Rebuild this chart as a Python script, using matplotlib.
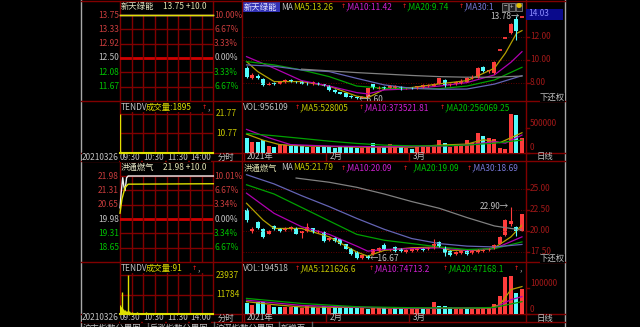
import numpy as np
import matplotlib.pyplot as plt
from matplotlib.patches import Rectangle

plt.rcParams['font.family'] = ['Noto Sans CJK SC', 'DejaVu Sans']
FS = 6.0
W, H = 640, 327

# ---------------- data: 新天绿能 ----------------
s1_name = '新天绿能'
s1_head = '13.75 +10.0'
s1_levels = [13.75, 13.33, 12.92, 12.50, 12.08, 11.67]
s1_pct = ['10.00%', '6.67%', '3.33%', '0.00%', '3.33%', '6.67%']
s1_vticks = [21.77, 10.77]
s1_vtick_lbl = ['21.77', '10.77']
s1_tendv = '成交量:1895'
# intraday price / average (minutes from 09:30)
s1_t = [0, 240]
s1_p = [13.75, 13.75]
s1_ta = [0, 240]
s1_pa = [13.75, 13.75]
s1_vm = [0, 1, 2, 3, 5, 10, 30, 60, 90, 120, 150, 180, 210, 239]
s1_vv = [22.0, 0.6, 0.4, 0.3, 0.3, 0.2, 0.2, 0.2, 0.2, 0.2, 0.2, 0.2, 0.2, 0.3]

s1_open = [9.30, 8.45, 8.60, 8.35, 7.85, 8.00, 7.95, 8.05, 8.25, 8.15, 8.10, 7.95, 7.90, 8.00, 7.90,
           7.75, 7.40, 7.20, 7.10, 6.85, 6.75, 6.70, 6.80, 7.90, 7.50, 7.65, 7.60, 7.60, 7.65, 7.50,
           7.60, 7.55, 7.60, 7.70, 7.75, 7.95, 8.25, 7.80, 7.90, 8.00, 8.10, 8.45, 8.45, 9.40, 9.00,
           8.85, 10.84, 11.92, 12.35, 13.56, 13.75]
s1_close = [8.55, 8.70, 8.45, 7.80, 7.95, 7.90, 8.05, 8.25, 8.10, 8.05, 7.95, 7.90, 8.05, 7.90, 7.75,
            7.35, 7.20, 7.05, 6.80, 6.75, 6.65, 6.75, 7.55, 7.55, 7.60, 7.55, 7.75, 7.70, 7.45, 7.55,
            7.50, 7.70, 7.85, 7.80, 7.95, 8.40, 7.85, 7.95, 8.10, 8.20, 8.45, 8.55, 9.30, 9.00, 9.10,
            9.85, 10.84, 11.92, 13.11, 12.50, 13.75]
s1_high = [9.45, 8.85, 8.75, 8.40, 8.05, 8.10, 8.15, 8.35, 8.30, 8.20, 8.15, 8.05, 8.15, 8.05, 7.95,
           7.80, 7.45, 7.25, 7.15, 6.95, 6.80, 6.85, 7.60, 7.95, 7.70, 7.75, 7.85, 7.80, 7.70, 7.60,
           7.65, 7.75, 7.90, 7.90, 8.00, 8.45, 8.30, 8.00, 8.15, 8.30, 8.55, 8.65, 9.35, 9.50, 9.15,
           9.90, 10.84, 11.92, 13.20, 13.78, 13.75]
s1_low = [8.45, 8.35, 8.35, 7.70, 7.80, 7.85, 7.90, 8.00, 8.05, 8.00, 7.90, 7.85, 7.85, 7.85, 7.70,
          7.30, 7.15, 7.00, 6.75, 6.70, 6.60, 6.65, 6.75, 7.50, 7.45, 7.50, 7.55, 7.55, 7.40, 7.45,
          7.45, 7.50, 7.55, 7.65, 7.70, 7.90, 7.65, 7.75, 7.85, 7.95, 8.05, 8.35, 8.40, 8.95, 8.90,
          8.80, 10.84, 11.92, 12.30, 11.74, 13.75]
s1_vol = [286, 218, 204, 252, 129, 116, 150, 150, 136, 136, 136, 102, 116, 116, 129,
          129, 82, 116, 116, 102, 82, 82, 116, 184, 102, 116, 163, 129, 116, 82,
          68, 102, 116, 116, 129, 252, 184, 116, 129, 150, 252, 184, 388, 333, 286,
          265, 82, 68, 782, 762, 286]  # thousands

s1_ma5_i = [0, 2, 5, 10, 15, 18, 20, 22, 25, 30, 35, 40, 43, 45, 47, 49, 50]
s1_ma5 = [9.86, 9.0, 8.12, 8.12, 7.73, 7.2, 6.85, 6.7, 7.45, 7.6, 7.92, 8.2, 8.84, 9.28, 10.6, 12.3, 12.55]
s1_ma10_i = [0, 5, 10, 15, 20, 22, 25, 30, 35, 40, 45, 48, 50]
s1_ma10 = [10.29, 9.28, 8.2, 7.73, 7.16, 7.05, 7.39, 7.5, 7.73, 8.03, 8.7, 9.8, 10.72]
s1_ma20_i = [0, 5, 10, 15, 20, 25, 30, 35, 40, 45, 50]
s1_ma20 = [9.86, 9.57, 9.13, 8.55, 7.73, 7.53, 7.53, 7.5, 7.73, 8.26, 9.36]
s1_ma30_i = [0, 5, 10, 15, 20, 25, 30, 35, 40, 45, 50]
s1_ma30 = [9.57, 9.45, 9.13, 8.99, 8.4, 7.83, 7.53, 7.45, 7.47, 7.9, 8.63]
s1_ma60_i = [10, 20, 30, 35, 40, 45, 50]
s1_ma60 = [9.2, 8.9, 8.65, 8.55, 8.5, 8.5, 8.6]

s1_vma5_i = [0, 3, 6, 10, 20, 30, 35, 40, 43, 46, 48, 50]
s1_vma5 = [374, 250, 160, 135, 110, 110, 150, 170, 260, 200, 300, 401]
s1_vma10_i = [0, 4, 8, 15, 25, 35, 40, 45, 47, 50]
s1_vma10 = [469, 300, 160, 130, 115, 130, 150, 220, 190, 354]
s1_vma20_i = [0, 5, 10, 15, 20, 25, 30, 35, 40, 45, 50]
s1_vma20 = [388, 340, 286, 230, 184, 150, 136, 135, 150, 190, 252]

s1_kticks = [12.00, 10.00, 8.00]
s1_vkticks = [500000, 0]
s1_cur = 14.03
s1_hi = (50, 13.78)
s1_lo = (20, 6.60)
s1_ktitle = [(281, 'MA', 'g'), (293, 'MA5:13.26', 'y'), (343, '↑', 'r'), (346, ',MA10:11.42', 'm'),
             (404, '↑', 'r'), (407, ',MA20:9.74', 'gr'), (461, '↑', 'r'), (464, ',MA30:1', 'b')]
s1_vtitle = [(243, 'VOL:956109', 'g'), (297, '↑', 'r'), (300, ',MA5:528005', 'y'), (361, '↑', 'r'),
             (364, ',MA10:373521.81', 'm'), (442, '↑', 'r'), (445, ',MA20:256069.25', 'gr')]

# ---------------- data: 洪通燃气 ----------------
s2_name = '洪通燃气'
s2_head = '21.98 +10.0'
s2_levels = [21.98, 21.31, 20.65, 19.98, 19.31, 18.65]
s2_pct = ['10.01%', '6.67%', '3.34%', '0.00%', '3.34%', '6.67%']
s2_vticks = [23937, 11784]
s2_vtick_lbl = ['23937', '11784']
s2_tendv = '成交量:91'
s2_t = [0, 3, 7, 10, 13, 17, 21, 240]
s2_p = [20.5, 21.2, 21.9, 21.5, 21.3, 21.9, 21.98, 21.98]
s2_ta = [0, 5, 13, 21, 240]
s2_pa = [20.25, 20.9, 21.45, 21.6, 21.62]
s2_vm = [0, 1, 2, 3, 4, 5, 6, 8, 10, 12, 15, 18, 21, 23, 26, 30, 44, 68, 112, 160, 200]
s2_vv = [5500, 4200, 3800, 4000, 13200, 3500, 3000, 2500, 2200, 2000, 1800, 1500, 23900, 1400,
         900, 700, 1200, 800, 600, 400, 400]

s2_open = [22.50, 20.00, 21.10, 20.20, 19.70, 20.60, 20.30, 20.10, 20.20, 20.40, 19.80, 19.95, 20.30, 19.90, 19.90,
           18.90, 19.20, 19.00, 18.40, 17.90, 17.50, 16.80, 17.00, 17.30, 17.60, 18.30, 17.70, 18.10, 17.90, 17.50,
           17.60, 17.70, 17.90, 17.80, 18.00, 18.70, 18.10, 17.60, 17.30, 17.40, 17.60, 17.40, 17.50, 17.60, 17.70,
           18.00, 18.50, 19.50, 20.80, 20.50, 20.00]
s2_close = [21.30, 20.20, 20.30, 19.30, 20.00, 20.20, 20.00, 20.40, 20.50, 19.70, 19.95, 20.50, 19.90, 20.00, 18.80,
            19.20, 18.80, 18.40, 17.90, 17.30, 16.80, 17.10, 16.75, 17.80, 18.00, 17.90, 17.80, 17.60, 17.60, 17.70,
            17.80, 17.90, 17.70, 18.00, 18.40, 18.20, 17.40, 17.10, 17.50, 17.60, 17.30, 17.60, 17.70, 17.80, 17.90,
            18.30, 19.30, 21.30, 21.20, 19.98, 21.98]
s2_high = [22.70, 20.45, 21.20, 20.30, 20.10, 20.70, 20.40, 20.50, 20.60, 20.50, 20.05, 20.90, 20.40, 20.10, 20.00,
           19.30, 19.30, 19.10, 18.50, 18.00, 17.60, 17.20, 17.10, 17.90, 18.10, 18.60, 17.90, 18.20, 18.00, 17.80,
           17.90, 18.00, 18.00, 18.10, 19.00, 18.80, 18.20, 17.70, 17.60, 17.70, 17.70, 17.70, 17.80, 17.90, 18.00,
           18.40, 19.40, 21.40, 22.90, 20.60, 21.98]
s2_low = [21.10, 19.80, 20.20, 19.20, 19.60, 20.10, 19.90, 20.00, 20.10, 19.60, 19.20, 19.90, 19.80, 19.80, 18.70,
          18.80, 18.70, 18.30, 17.80, 17.20, 16.70, 16.70, 16.67, 17.20, 17.50, 17.80, 17.60, 17.50, 17.50, 17.40,
          17.50, 17.60, 17.60, 17.70, 17.90, 18.10, 17.00, 17.00, 17.20, 17.30, 17.20, 17.30, 17.40, 17.50, 17.60,
          17.90, 18.40, 19.40, 20.60, 19.40, 19.98]
s2_vol = [40, 33, 47, 44, 33, 27, 25, 27, 25, 28, 20, 30, 25, 22, 28,
          22, 24, 22, 24, 22, 26, 20, 18, 22, 20, 24, 18, 22, 20, 16,
          17, 18, 18, 22, 47, 30, 28, 25, 20, 22, 20, 18, 18, 20, 22,
          37, 69, 147, 149, 83, 96]  # thousands

s2_ma5_i = [0, 3, 5, 10, 15, 20, 22, 25, 30, 35, 37, 42, 45, 48, 50]
s2_ma5 = [23.3, 21.3, 20.3, 20.3, 19.3, 17.5, 17.0, 17.7, 18.0, 18.1, 17.7, 17.7, 18.0, 19.3, 20.7]
s2_ma10_i = [0, 5, 10, 15, 20, 22, 25, 30, 35, 40, 45, 50]
s2_ma10 = [24.5, 22.1, 20.5, 19.6, 18.2, 17.6, 17.8, 17.9, 18.0, 17.7, 17.9, 19.3]
s2_ma20_i = [0, 5, 10, 15, 20, 25, 30, 35, 40, 45, 50]
s2_ma20 = [25.5, 24.4, 22.8, 21.2, 19.6, 18.9, 18.5, 18.1, 17.8, 17.9, 18.7]
s2_ma30_i = [0, 5, 10, 15, 20, 25, 30, 35, 40, 45, 50]
s2_ma30 = [26.7, 25.6, 24.2, 22.9, 21.5, 20.2, 19.1, 18.5, 18.2, 18.1, 18.4]
s2_ma60_i = [9, 15, 20, 25, 30, 35, 40, 45, 50]
s2_ma60 = [26.3, 25.8, 25.2, 24.4, 23.5, 22.7, 21.6, 20.6, 20.1]

s2_vma5_i = [0, 5, 10, 20, 30, 40, 44, 46, 48, 50]
s2_vma5 = [47, 35, 26, 24, 20, 21, 21, 35, 95, 107]
s2_vma10_i = [0, 10, 20, 30, 40, 45, 48, 50]
s2_vma10 = [53, 32, 25, 21, 22, 23, 55, 67]
s2_vma20_i = [0, 10, 20, 30, 40, 45, 50]
s2_vma20 = [60, 40, 27, 23, 22, 24, 47]

s2_kticks = [25.00, 22.50, 20.00, 17.50]
s2_vkticks = [100000, 0]
s2_cur = None
s2_hi = (48, 22.90)
s2_lo = (22, 16.67)
s2_ktitle = [(281, 'MA', 'g'), (293, 'MA5:21.79', 'y'), (343, '↑', 'r'), (346, ',MA10:20.09', 'm'),
             (405, '↑', 'r'), (413, ',MA20:19.09', 'gr'), (469, '↑', 'r'), (472, ',MA30:18.69', 'b')]
s2_vtitle = [(243, 'VOL:194518', 'g'), (297, '↑', 'r'), (300, ',MA5:121626.6', 'y'), (371, '↑', 'r'),
             (374, ',MA10:74713.2', 'm'), (445, '↑', 'r'), (448, ',MA20:47168.1', 'gr'), (516, '↑', 'r'),
             (520, ',', 'g')]

date_lbl = ['20210326', '09:30', '10:30', '11:30', '14:00']
month_lbl = ['2021年', '2月', '3月']
month_idx = [0, 15, 30]
tabs = ['沪市指数分累图', '反涨指数分累图', '沪深指数分累图', '新增页']

# ---------------- style ----------------
DR = '#800000'
RED = '#ff3c3c'
CYAN = '#54fcfc'
GRAY = '#c0c0c0'
TC = {'g': GRAY, 'y': '#c8c800', 'r': '#ff2020', 'm': '#d020d0', 'gr': '#00c000', 'b': '#7878d8'}
MA_COL = ['#b4a000', '#b000b0', '#00a000', '#6464b4', '#808080']
YEL = '#e0e000'

fig = plt.figure(figsize=(6.4, 3.27), dpi=100, facecolor='black')
bg = fig.add_axes([0, 0, 1, 1])
bg.set_xlim(0, W)
bg.set_ylim(H, 0)
bg.set_axis_off()
bg.set_facecolor('black')


def px_axes(x0, y0, x1, y1):
    ax = fig.add_axes([x0 / W, 1 - y1 / H, (x1 - x0) / W, (y1 - y0) / H])
    ax.set_facecolor('none')
    ax.set_axis_off()
    return ax


def t(x, y, s, c, **kw):
    kw.setdefault('va', 'center')
    kw.setdefault('fontsize', FS)
    if s == '↑':
        # narrow red arrow like the terminal font
        kw.update(ha='center', family='DejaVu Sans', fontsize=4.6)
    return bg.text(x, y, s, color=c, **kw)


# frame
bg.plot([81, 81], [0, H], color='#a8a8a8', lw=1)
bg.plot([565, 565], [0, H], color='#a8a8a8', lw=1)
bg.plot([81, 565], [0.8, 0.8], color=DR, lw=1)
for o in (0, 161):
    for yy in (o + 101, o + 152.5, o + 161):
        bg.plot([81, 565], [yy, yy], color=DR, lw=1)
for xx in (120, 213.3):
    for o in (0, 161):
        bg.plot([xx, xx], [o + 1, o + 152.5], color=DR, lw=1)
bg.plot([242, 242], [0, 322], color=DR, lw=1)
bg.plot([525.5, 525.5], [0, 322], color=DR, lw=1)


def draw_block(o, st):
    # ---- intraday price ----
    lv = st['levels']
    step = lv[0] - lv[1]
    ax = px_axes(120, o + 15, 213.3, o + 101)
    ax.set_xlim(0, 240)
    ax.set_ylim(lv[-1] - step, lv[0])
    for k, v in enumerate(lv):
        if k == 3:
            ax.axhline(v, color='#d00000', lw=2)
        else:
            ax.axhline(v, color=DR, lw=1, clip_on=False)
    for m in range(30, 240, 30):
        ax.axvline(m, color=DR, lw=1)
    ax.plot(st['t'], st['p'], color='#f0f0f0', lw=1, clip_on=False)
    ax.plot(st['ta'], st['pa'], color=YEL, lw=1, clip_on=False)
    lcol = ['#c83c3c'] * 3 + [GRAY] + ['#00c000'] * 2
    tr = ax.get_yaxis_transform()
    for v, c, p in zip(lv, lcol, st['pct']):
        ax.text(-0.01, v, f'{v:.2f}', transform=tr, ha='right', va='center', color=c, fontsize=FS)
        ax.text(1.01, v, p, transform=tr, ha='left', va='center', color=c, fontsize=FS)
    t(121, o + 6.5, st['name'], '#e8e8c8')
    t(163, o + 6.5, st['head'], '#e0e0b0')

    # ---- intraday volume ----
    axv = px_axes(120, o + 112, 213.3, o + 152.5)
    axv.set_xlim(0, 240)
    axv.set_ylim(0, st['vticks'][0] * 40.5 / 38.5)
    for m in range(30, 240, 30):
        axv.axvline(m, color=DR, lw=1)
    for v, s in zip(st['vticks'], st['vtick_lbl']):
        axv.axhline(v, color=DR, lw=1)
        axv.text(1.03, v, s, transform=axv.get_yaxis_transform(), ha='left', va='center',
                 color='#c8c800', fontsize=FS)
    axv.vlines(st['vm'], 0, st['vv'], color=YEL, lw=1)
    axv.plot([0, 240], [0, 0], color=YEL, lw=1.5, clip_on=False)
    t(121, o + 107.5, 'TENDV', GRAY)
    t(146, o + 107.5, st['tendv'], '#e0e000')
    up_x = 146 + (58 if len(st['tendv']) > 6 else 48)
    t(up_x, o + 107.5, '↑', '#ff2020')
    t(up_x + 4, o + 107.5, ',', GRAY)

    # ---- date row ----
    for x, s in zip([82, 120, 143.5, 167, 190], date_lbl):
        t(x, o + 157, s, GRAY, bbox=dict(fc='black', ec='none', pad=0.3))
    t(218, o + 157, '分时', GRAY)
    t(537, o + 157, '日线', GRAY)

    # ---- K line ----
    op, cl = np.array(st['open']), np.array(st['close'])
    hi, lo = np.array(st['high']), np.array(st['low'])
    x = np.arange(len(op))
    col = np.where(cl >= op, RED, CYAN)
    axk = px_axes(243, o + 12, 525.5, o + 101)
    axk.set_xlim(-0.64, 50.64)
    axk.set_ylim(*st['kylim'])
    for v in st['kticks']:
        axk.axhline(v, color=DR, lw=0.6, ls=(0, (1, 2)))
    ktr = axk.get_yaxis_transform()
    for v in st['kticks']:
        axk.plot([1.0, 1.012], [v, v], transform=ktr, color=DR, lw=1, clip_on=False)
        axk.text(1.015, v, f'{v:.2f}', transform=ktr, ha='left', va='center', color='#a01818',
                 fontsize=FS, clip_on=False)
    lines = [(st['ma5_i'], st['ma5']), (st['ma10_i'], st['ma10']), (st['ma20_i'], st['ma20']),
             (st['ma30_i'], st['ma30']), (st['ma60_i'], st['ma60'])]
    for (ix, vv), c in zip(lines, MA_COL):
        axk.plot(ix, vv, color=c, lw=0.9)
    axk.vlines(x, lo, hi, colors=col, lw=0.8)
    axk.bar(x, np.abs(cl - op), bottom=np.minimum(op, cl), width=0.72, color=col, lw=0)
    flat = op == cl
    axk.hlines(op[flat], x[flat] - 0.36, x[flat] + 0.36, colors=col[flat], lw=1.3)
    hx, hv = st['hi']
    axk.text(hx - 0.35, hv, f'{hv:.2f}→', ha='right', va='center', color=GRAY, fontsize=FS)
    lx, lvv = st['lo']
    axk.text(lx + 0.45, lvv, f'←{lvv:.2f}', ha='left', va='center', color=GRAY, fontsize=FS,
             clip_on=True)
    if st['cur'] is not None:
        bg.add_patch(Rectangle((526, o + 8.5), 37, 11, fc='#0a0a8c', ec='none', zorder=3))
        axk.text(1.01, st['cur'], f'{st["cur"]:.2f}', transform=ktr, ha='left', va='center',
                 color='#8c8cff', fontsize=FS, zorder=4, clip_on=False)
    # "下还权" sits over the lowest price label, as in the terminal
    t(540, o + 97.5, '下还权', GRAY, zorder=5, bbox=dict(fc='black', ec='none', pad=0.2))
    if o == 0:
        bg.add_patch(Rectangle((243, o + 2), 37, 10, fc='#3232b4', ec='none'))
        t(244, o + 7, st['name'], '#e6e6ff')
    else:
        t(244, o + 7, st['name'], '#e0e0b0')
    for xx, s, c in st['ktitle']:
        t(xx, o + 7, s, TC[c])

    # ---- K volume ----
    vol = np.array(st['vol']) * 1000
    axkv = px_axes(243, o + 112, 525.5, o + 152.5)
    axkv.set_xlim(-0.64, 50.64)
    axkv.set_ylim(0, st['vtop'])
    axkv.bar(x, vol, width=0.72, color=col, lw=0)
    vlines = [(st['vma5_i'], st['vma5']), (st['vma10_i'], st['vma10']), (st['vma20_i'], st['vma20'])]
    for (ix, vv), c in zip(vlines, MA_COL[:3]):
        axkv.plot(ix, np.array(vv) * 1000, color=c, lw=0.9)
    vtr = axkv.get_yaxis_transform()
    for v in st['vkticks']:
        axkv.plot([1.0, 1.012], [v, v], transform=vtr, color=DR, lw=1, clip_on=False)
        axkv.text(1.015, v, f'{v}', transform=vtr, ha='left', va='bottom', color='#a01818',
                  fontsize=FS, clip_on=False)
    for xx, s, c in st['vtitle']:
        t(xx, o + 107.5, s, TC[c])
    xtr = axkv.get_xaxis_transform()
    for i, s in zip(month_idx, month_lbl):
        axkv.plot([i - 0.5, i - 0.5], [-0.02, -0.2], transform=xtr, color=DR, lw=1, clip_on=False)
        axkv.text(i + 0.1, -0.11, s, transform=xtr, ha='left', va='center', color=GRAY,
                  fontsize=FS, clip_on=False)


st1 = dict(name=s1_name, head=s1_head, levels=s1_levels, pct=s1_pct, vticks=s1_vticks,
           vtick_lbl=s1_vtick_lbl, tendv=s1_tendv, t=s1_t, p=s1_p, ta=s1_ta, pa=s1_pa,
           vm=s1_vm, vv=s1_vv, open=s1_open, close=s1_close, high=s1_high, low=s1_low,
           vol=s1_vol, ma5_i=s1_ma5_i, ma5=s1_ma5, ma10_i=s1_ma10_i, ma10=s1_ma10,
           ma20_i=s1_ma20_i, ma20=s1_ma20, ma30_i=s1_ma30_i, ma30=s1_ma30, ma60_i=s1_ma60_i,
           ma60=s1_ma60, vma5_i=s1_vma5_i, vma5=s1_vma5, vma10_i=s1_vma10_i, vma10=s1_vma10,
           vma20_i=s1_vma20_i, vma20=s1_vma20, kticks=s1_kticks, vkticks=s1_vkticks,
           cur=s1_cur, hi=s1_hi, lo=s1_lo, ktitle=s1_ktitle, vtitle=s1_vtitle,
           kylim=(6.43, 14.17), vtop=822000)
st2 = dict(name=s2_name, head=s2_head, levels=s2_levels, pct=s2_pct, vticks=s2_vticks,
           vtick_lbl=s2_vtick_lbl, tendv=s2_tendv, t=s2_t, p=s2_p, ta=s2_ta, pa=s2_pa,
           vm=s2_vm, vv=s2_vv, open=s2_open, close=s2_close, high=s2_high, low=s2_low,
           vol=s2_vol, ma5_i=s2_ma5_i, ma5=s2_ma5, ma10_i=s2_ma10_i, ma10=s2_ma10,
           ma20_i=s2_ma20_i, ma20=s2_ma20, ma30_i=s2_ma30_i, ma30=s2_ma30, ma60_i=s2_ma60_i,
           ma60=s2_ma60, vma5_i=s2_vma5_i, vma5=s2_vma5, vma10_i=s2_vma10_i, vma10=s2_vma10,
           vma20_i=s2_vma20_i, vma20=s2_vma20, kticks=s2_kticks, vkticks=s2_vkticks,
           cur=s2_cur, hi=s2_hi, lo=s2_lo, ktitle=s2_ktitle, vtitle=s2_vtitle,
           kylim=(16.31, 26.9), vtop=161000)

draw_block(0, st1)
draw_block(161, st2)

# window buttons on the top K title
for xx, s, c in zip([502, 509, 516], ['−', '+', '●'], [GRAY, GRAY, '#e0c000']):
    bg.add_patch(Rectangle((xx, 2.5), 6, 8, fc='#202020', ec='#808080', lw=0.6, zorder=3))
    t(xx + 3, 6.5, s, c, ha='center', fontsize=4.5, zorder=4)

# bottom tabs (cut off by the window edge)
for xx, s in zip([83, 150, 216, 281], tabs):
    t(xx, 323.5, s, GRAY, va='top')
for xx in (148, 214, 279, 312):
    bg.plot([xx, xx], [322, 327], color='#606060', lw=1)

fig.savefig('out.png', dpi=100, facecolor='black')
